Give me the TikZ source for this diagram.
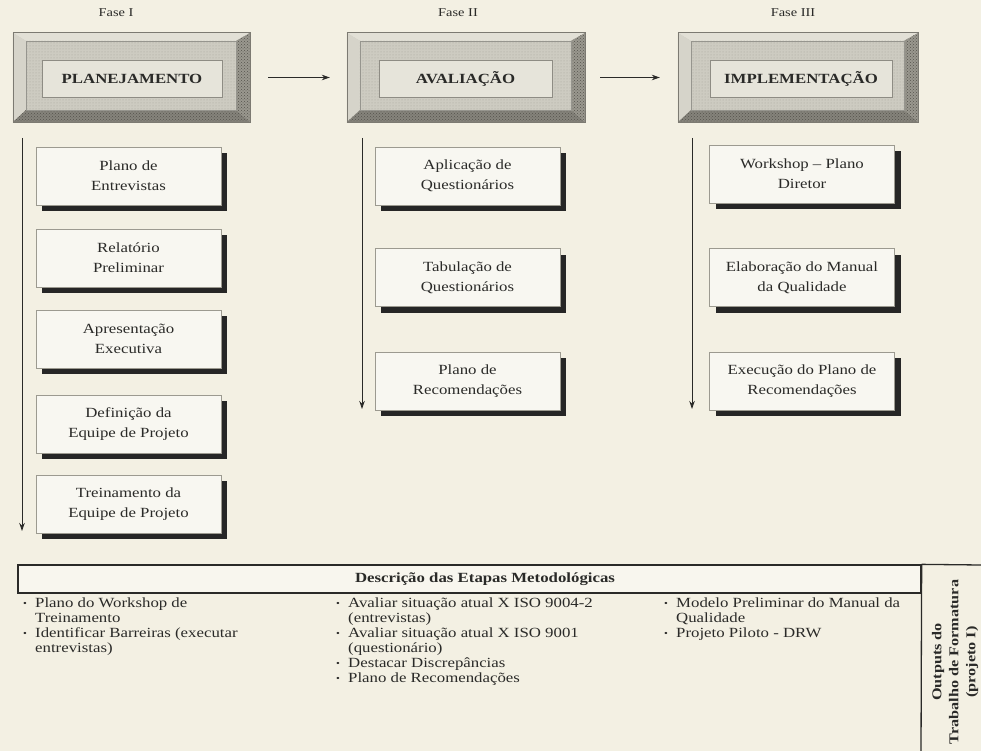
\documentclass[tikz,border=0pt]{standalone}
\usepackage{fontspec}
\setmainfont[FakeStretch=1.2]{Liberation Serif}
\usetikzlibrary{arrows.meta,shadows,patterns,calc}

\definecolor{paper}{HTML}{F3F0E3}
\definecolor{framemid}{HTML}{CDCBC1}
\definecolor{frameedge}{HTML}{7C7A72}
\definecolor{bevlight}{HTML}{E2E0D6}
\definecolor{bevside}{HTML}{D6D4CA}
\definecolor{bevdark}{HTML}{9A988F}
\definecolor{bevdeep}{HTML}{85837B}
\definecolor{dotgray}{HTML}{A8A69C}
\definecolor{dotdark}{HTML}{55534C}
\definecolor{labelfill}{HTML}{E6E4DA}
\definecolor{labeledge}{HTML}{8E8C84}
\definecolor{boxfill}{HTML}{F8F7F1}
\definecolor{boxedge}{HTML}{9C9A90}
\definecolor{ink}{HTML}{2A2A28}

% bevelled frame drawn round a phase node
\newcommand\bevelframe[1]{%
  \fill[bevlight] (#1.north west) -- (#1.north east) -- ($(#1.north east)+(-14,8)$) -- ($(#1.north west)+(13,8)$) -- cycle;
  \fill[bevside] (#1.north west) -- ($(#1.north west)+(13,8)$) -- ($(#1.south west)+(13,-12)$) -- (#1.south west) -- cycle;
  \fill[bevdark] (#1.north east) -- ($(#1.north east)+(-14,8)$) -- ($(#1.south east)+(-14,-12)$) -- (#1.south east) -- cycle;
  \fill[pattern=crosshatch dots, pattern color=dotdark] (#1.north east) -- ($(#1.north east)+(-14,8)$) -- ($(#1.south east)+(-14,-12)$) -- (#1.south east) -- cycle;
  \fill[bevdeep] (#1.south west) -- ($(#1.south west)+(13,-12)$) -- ($(#1.south east)+(-14,-12)$) -- (#1.south east) -- cycle;
  \fill[pattern=crosshatch dots, pattern color=dotdark] (#1.south west) -- ($(#1.south west)+(13,-12)$) -- ($(#1.south east)+(-14,-12)$) -- (#1.south east) -- cycle;
  \fill[pattern=dots, pattern color=dotgray] ($(#1.north west)+(13,8)$) rectangle ($(#1.south east)+(-14,-12)$);
  \draw[frameedge, line width=0.6pt] (#1.north west) rectangle (#1.south east);
  \draw[frameedge!80, line width=0.4pt] ($(#1.north west)+(13,8)$) rectangle ($(#1.south east)+(-14,-12)$);
}

\newcommand\itm[1]{\makebox[12pt][l]{\raisebox{1.5pt}{\scalebox{0.65}{•}}}#1}
\newcommand\cont[1]{\hspace*{12pt}#1}

\begin{document}
\begin{tikzpicture}[x=1pt,y=-1pt,
  phaseframe/.style={fill=framemid, inner sep=0pt, minimum height=89pt},
  phaselabel/.style={draw=labeledge, fill=labelfill, line width=0.6pt, inner sep=0pt,
     minimum height=37pt, text=ink, font=\fontsize{14}{16}\selectfont\bfseries},
  fasetag/.style={text=ink, font=\fontsize{12}{13}\selectfont},
  stepbox/.style={draw=boxedge, fill=boxfill, line width=0.5pt, inner sep=0pt,
     minimum width=185pt, minimum height=58pt, align=center, text=ink,
     font=\fontsize{14}{20}\selectfont,
     drop shadow={shadow xshift=6pt, shadow yshift=-6pt, fill=black!85, opacity=1}},
  flow/.style={draw=ink, line width=0.9pt, -{Stealth[length=8pt,width=5.5pt]}},
  listtext/.style={anchor=north west, inner sep=0pt, align=left, text=ink,
     font=\fontsize{14}{15}\selectfont},
]
\useasboundingbox[fill=paper] (0,0) rectangle (981,751);

% phase labels
\node[fasetag] (f1) at (116,13) {Fase I};
\node[fasetag] (f2) at (458,13) {Fase II};
\node[fasetag] (f3) at (793,13) {Fase III};

% phase frames
\node[phaseframe, minimum width=237pt] (p1) at (131.5,77.5) {};
\bevelframe{p1}
\node[phaselabel, minimum width=180pt] (l1) at (132,78.5) {PLANEJAMENTO};

\node[phaseframe, minimum width=238pt] (p2) at (466,77.5) {};
\bevelframe{p2}
\node[phaselabel, minimum width=173pt] (l2) at (465.5,78.5) {AVALIAÇÃO};

\node[phaseframe, minimum width=240pt] (p3) at (798,77.5) {};
\bevelframe{p3}
\node[phaselabel, minimum width=182pt] (l3) at (801,78.5) {IMPLEMENTAÇÃO};

% phase sequence
\draw[flow, shorten <=18pt, shorten >=17pt] (p1.east) -- (p2.west);
\draw[flow, shorten <=15pt, shorten >=18pt] (p2.east) -- (p3.west);

% phase I steps
\node[stepbox] (a1) at (128.5,176) {Plano de\\Entrevistas};
\node[stepbox] (a2) at (128.5,258) {Relatório\\Preliminar};
\node[stepbox] (a3) at (128.5,339) {Apresentação\\Executiva};
\node[stepbox] (a4) at (128.5,424) {Definição da\\Equipe de Projeto};
\node[stepbox] (a5) at (128.5,504) {Treinamento da\\Equipe de Projeto};

% phase II steps
\node[stepbox] (b1) at (467.5,176) {Aplicação de\\Questionários};
\node[stepbox] (b2) at (467.5,277.5) {Tabulação de\\Questionários};
\node[stepbox] (b3) at (467.5,381) {Plano de\\Recomendações};

% phase III steps
\node[stepbox] (c1) at (802,174) {Workshop – Plano\\Diretor};
\node[stepbox] (c2) at (802,277.5) {Elaboração do Manual\\da Qualidade};
\node[stepbox] (c3) at (802,381) {Execução do Plano de\\Recomendações};

% time lines beside each phase
\coordinate (t1s) at (22,138);  \coordinate (t1e) at (22,531);
\coordinate (t2s) at (362,138); \coordinate (t2e) at (362,409);
\coordinate (t3s) at (692,138); \coordinate (t3e) at (692,409);
\draw[flow] (t1s) -- (t1e);
\draw[flow] (t2s) -- (t2e);
\draw[flow] (t3s) -- (t3e);

% description table
\node[draw=ink, line width=1.3pt, fill=paper!60!white, inner sep=0pt,
      minimum width=903pt, minimum height=28pt] (hdr) at (469.5,579) {};
\node[text=ink, font=\fontsize{14}{16}\selectfont\bfseries] (hdrtext) at (485,579)
  {Descrição das Etapas Metodológicas};
\coordinate (rtop) at (981,565);
\coordinate (dbot) at (921,751);
\draw[ink, line width=1.3pt] (hdr.north east) -- (rtop);
\draw[ink, line width=1.3pt] (hdr.north east) -- (dbot);

\node[listtext] (d1) at (23,598) {%
  \itm{Plano do Workshop de}\\
  \cont{Treinamento}\\
  \itm{Identificar Barreiras (executar}\\
  \cont{entrevistas)}};
\node[listtext] (d2) at (336,598) {%
  \itm{Avaliar situação atual X ISO 9004-2}\\
  \cont{(entrevistas)}\\
  \itm{Avaliar situação atual X ISO 9001}\\
  \cont{(questionário)}\\
  \itm{Destacar Discrepâncias}\\
  \itm{Plano de Recomendações}};
\node[listtext] (d3) at (664,598) {%
  \itm{Modelo Preliminar do Manual da}\\
  \cont{Qualidade}\\
  \itm{Projeto Piloto - DRW}};

\node[rotate=90, align=center, text=ink, inner sep=0pt,
      font=\fontsize{13.5}{17}\selectfont\bfseries] (outp) at (955,662)
  {Outputs do\\Trabalho de Formatura\\(projeto I)};
\end{tikzpicture}
\end{document}
